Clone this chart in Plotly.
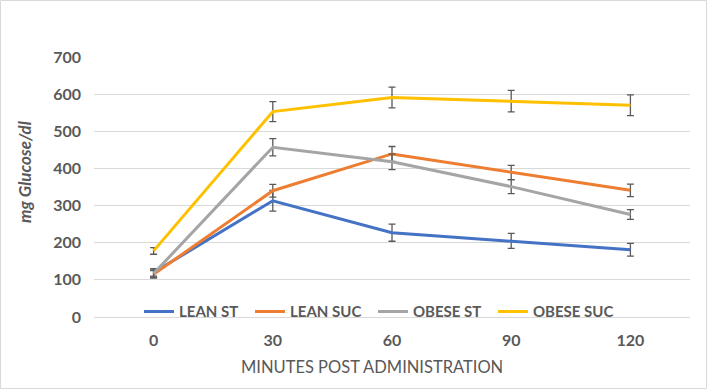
import plotly.graph_objects as go

minutes = ["0", "30", "60", "90", "120"]
lean_st = [120, 313, 227, 205, 181]
lean_st_err = [10, 28, 23, 20, 17]
lean_suc = [115, 340, 439, 389, 341]
lean_suc_err = [10, 17, 20, 19, 17]
obese_st = [117, 457, 418, 351, 276]
obese_st_err = [10, 23, 21, 19, 13]
obese_suc = [178, 553, 591, 581, 570]
obese_suc_err = [9, 27, 28, 29, 28]

series = [
    ("LEAN ST", lean_st, lean_st_err, "#4472C4"),
    ("LEAN SUC", lean_suc, lean_suc_err, "#ED7D31"),
    ("OBESE ST", obese_st, obese_st_err, "#A5A5A5"),
    ("OBESE SUC", obese_suc, obese_suc_err, "#FFC000"),
]

W, H = 707, 389
L, R, T, B = 94, 17, 57, 72
PW, PH = W - L - R, H - T - B
FONT = "Lato, Carlito, Calibri, sans-serif"
GREY = "#595959"

legend_ids = ["legend", "legend2", "legend3", "legend4"]
legend_px = [139, 250, 373, 493]

fig = go.Figure()
for (name, vals, errs, col), lid in zip(series, legend_ids):
    fig.add_trace(go.Scatter(
        x=minutes, y=vals, name=name, mode="lines", legend=lid,
        line=dict(color=col, width=3),
        error_y=dict(type="data", array=errs, visible=True,
                     color=GREY, thickness=1.3, width=3.5),
    ))

legend_style = dict(orientation="h", xanchor="left", y=0.02, yanchor="middle",
                    bgcolor="rgba(0,0,0,0)",
                    font=dict(size=15, color=GREY, family=FONT, weight="bold"),
                    itemwidth=30)
legends = {lid: dict(legend_style, x=(px - L) / PW) for lid, px in zip(legend_ids, legend_px)}

fig.update_layout(
    width=W, height=H,
    margin=dict(l=L, r=R, t=T, b=B),
    plot_bgcolor="white", paper_bgcolor="white",
    font=dict(family=FONT, color=GREY, size=14),
    showlegend=True,
    **legends,
    xaxis=dict(type="category", range=[-0.5, 4.5], showgrid=False, showline=False,
               zeroline=False, ticks="", ticklabelstandoff=12,
               tickfont=dict(size=16, color=GREY, family=FONT, weight="bold")),
    yaxis=dict(range=[0, 700], dtick=100, showgrid=True, gridcolor="#D9D9D9", gridwidth=1,
               zeroline=True, zerolinecolor="#D9D9D9", zerolinewidth=1,
               showline=False, ticks="", ticklabelstandoff=12,
               tickfont=dict(size=16, color=GREY, family=FONT, weight="bold")),
    annotations=[
        dict(text="MINUTES POST ADMINISTRATION", xref="paper", yref="paper",
             x=(372 - L) / PW, y=-(367 - (H - B)) / PH,
             xanchor="center", yanchor="middle", showarrow=False,
             font=dict(size=16.5, color=GREY, family=FONT)),
        dict(text="<i><b>mg Glucose/dl</b></i>", xref="paper", yref="paper",
             x=-(L - 24) / PW, y=(H - B - 172) / PH,
             xanchor="center", yanchor="middle", showarrow=False, textangle=-90,
             font=dict(size=17, color=GREY, family=FONT)),
    ],
    shapes=[dict(type="rect", xref="paper", yref="paper",
                 x0=-(L - 0.5) / PW, x1=1 + (R - 0.5) / PW,
                 y0=-(B - 0.5) / PH, y1=1 + (T - 0.5) / PH,
                 line=dict(color="#D9D9D9", width=1), layer="below")],
)

fig.write_html("out.html", config={"displayModeBar": False},
               post_script="document.body.style.margin='0px';")
